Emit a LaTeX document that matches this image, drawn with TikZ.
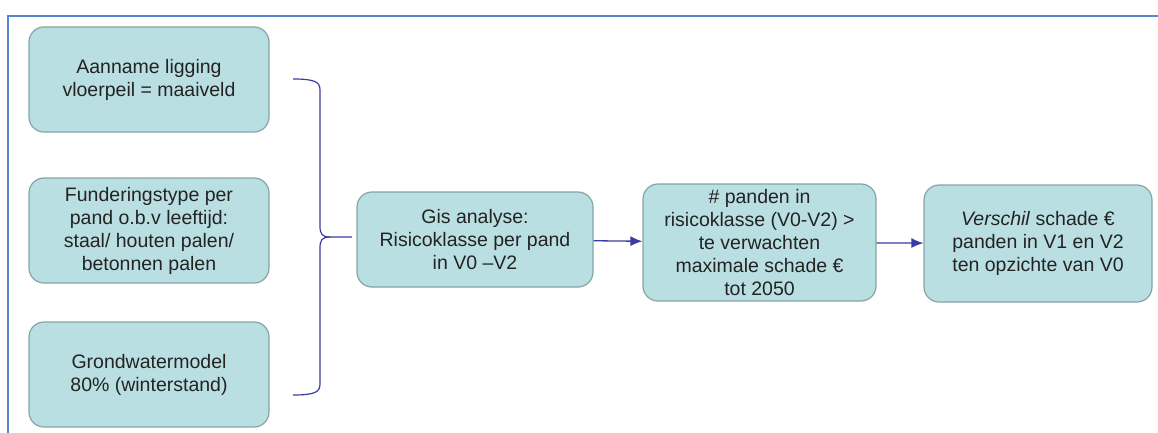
\documentclass[tikz,border=0pt]{standalone}
\usepackage{fontspec}
\setmainfont{Liberation Sans}
\usetikzlibrary{arrows.meta,positioning}
\definecolor{boxteal}{RGB}{186,223,226}
\definecolor{boxedge}{RGB}{132,164,166}
\definecolor{linkblue}{RGB}{58,58,165}
\definecolor{frameblue}{RGB}{84,134,204}
\definecolor{txtgrey}{RGB}{35,35,35}

\begin{document}
\begin{tikzpicture}[x=1pt, y=-1pt,
    box/.style={rectangle, draw=boxedge, line width=1.2pt, fill=boxteal,
        rounded corners=15pt, align=center, text=txtgrey, inner sep=2pt,
        font=\fontsize{19.5}{23}\selectfont},
    inbox/.style={box, minimum width=240pt, minimum height=105pt},
    arr/.style={-{Latex[length=12pt, width=10pt]}, line width=1.3pt, linkblue},
    brace/.style={line width=1.2pt, linkblue}
]
    \useasboundingbox (0,0) rectangle (1158,433);
    % text box frame
    \draw[frameblue, line width=2pt] (1158,16) -- (8,16) -- (8,433);

    % Inputs
    \node[inbox] (ligging) at (149,79.5) {Aanname ligging\\vloerpeil = maaiveld};
    \node[inbox] (fundering) at (149,230.5)
        {Funderingstype per\\pand o.b.v leeftijd:\\staal/ houten palen/\\betonnen palen};
    \node[inbox] (grondwater) at (149,374.5) {Grondwatermodel\\80\% (winterstand)};

    % Brace
    \coordinate (bracetop) at (293,79);
    \coordinate (bracebot) at (293,395);
    \coordinate (bracetip) at (352,237);
    \draw[brace] (bracetop) .. controls +(22,0) and +(0,-8) .. (320,90) -- (320,226)
        .. controls +(0,8) and +(-8,0) .. (330,237) -- (bracetip);
    \draw[brace] (bracebot) .. controls +(22,0) and +(0,8) .. (320,384) -- (320,248)
        .. controls +(0,-8) and +(-8,0) .. (330,237);

    % Analysis chain
    \node[box, minimum width=236pt, minimum height=95pt] (gis) at (475,239.5)
        {Gis analyse:\\Risicoklasse per pand\\in V0 –V2};
    \node[box, minimum width=233pt, minimum height=117pt] (panden) at (759.5,242.5)
        {\# panden in\\risicoklasse (V0-V2) >\\te verwachten\\maximale schade €\\tot 2050};
    \node[box, minimum width=228pt, minimum height=117pt] (verschil) at (1038,243.5)
        {\textit{Verschil} schade €\\panden in V1 en V2\\ten opzichte van V0};

    \draw[arr] (gis) -- (panden);
    \draw[arr] (panden) -- (verschil);
\end{tikzpicture}
\end{document}
